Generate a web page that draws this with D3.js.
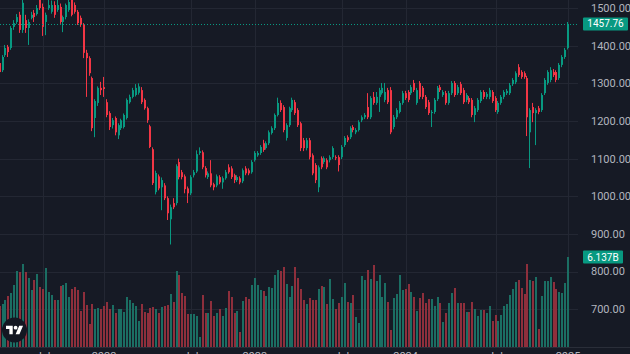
<!DOCTYPE html>
<html>
<head>
<meta charset="utf-8">
<script src="https://cdn.jsdelivr.net/npm/d3@7"></script>
<style>
  html, body { margin: 0; padding: 0; background: #161a25; overflow: hidden; }
  svg { display: block; }
  text { font-family: Roboto, "Liberation Sans", sans-serif; }
</style>
</head>
<body>
<div id="chart"></div>
<script>
// weekly candles, oldest first
var open = [
  1354,1335,1375,1397,1394,1450,1463,1482,1442,1468,
  1447,1474,1487,1484,1522,1503,1463,1500,1490,1508,
  1495,1503,1463,1476,1495,1522,1508,1490,1474,1455,
  1381,1367,1314,1208,1248,1288,1290,1250,1221,1189,
  1208,1162,1181,1184,1208,1250,1264,1269,1275,1282,
  1256,1234,1186,1125,1011,1053,1024,1029,995,939,
  982,982,1091,1064,1053,1021,1008,1056,1066,1115,
  1117,1075,1051,1061,1032,1029,1051,1037,1048,1077,
  1074,1056,1043,1048,1040,1074,1069,1064,1096,1109,
  1115,1141,1128,1141,1168,1181,1216,1248,1237,1155,
  1189,1229,1250,1229,1194,1149,1128,1149,1109,1083,
  1024,1101,1091,1096,1096,1104,1104,1104,1104,1136,
  1157,1157,1184,1170,1176,1202,1210,1237,1210,1264,
  1248,1264,1274,1256,1282,1282,1184,1210,1224,1248,
  1274,1277,1274,1301,1248,1301,1288,1264,1250,1221,
  1224,1258,1290,1269,1274,1248,1274,1301,1274,1298,
  1282,1256,1261,1256,1216,1229,1253,1277,1264,1264,
  1277,1261,1224,1248,1264,1274,1274,1298,1303,1343,
  1330,1327,1314,1170,1237,1221,1234,1229,1274,1301,
  1309,1330,1330,1314,1349,1370,1394
];
var high = [
  1362,1375,1402,1402,1452,1468,1484,1490,1522,1482,
  1470,1490,1495,1508,1535,1512,1488,1525,1520,1518,
  1522,1512,1480,1512,1530,1545,1515,1495,1480,1460,
  1389,1372,1318,1258,1292,1304,1317,1258,1226,1208,
  1212,1194,1206,1220,1260,1270,1288,1298,1300,1290,
  1260,1238,1190,1130,1068,1058,1050,1035,1000,978,
  995,1085,1100,1070,1058,1026,1056,1070,1122,1130,
  1122,1080,1066,1096,1036,1058,1056,1053,1070,1085,
  1080,1060,1056,1053,1074,1080,1074,1096,1120,1120,
  1136,1150,1146,1175,1186,1220,1262,1255,1242,1194,
  1238,1262,1256,1234,1198,1155,1155,1155,1114,1088,
  1082,1106,1106,1101,1109,1133,1109,1109,1136,1160,
  1162,1186,1189,1181,1202,1215,1221,1274,1266,1277,
  1277,1288,1301,1301,1288,1290,1216,1234,1253,1280,
  1280,1282,1296,1309,1288,1306,1293,1269,1256,1229,
  1261,1293,1296,1282,1280,1280,1306,1306,1296,1304,
  1288,1274,1266,1261,1240,1261,1282,1282,1277,1288,
  1282,1266,1253,1269,1282,1285,1301,1314,1332,1351,
  1335,1332,1320,1234,1248,1234,1240,1274,1314,1335,
  1343,1338,1335,1354,1375,1394,1463
];
var low = [
  1322,1330,1370,1370,1389,1442,1458,1434,1434,1434,
  1402,1470,1463,1480,1495,1426,1428,1495,1485,1474,
  1490,1458,1436,1470,1490,1478,1485,1455,1450,1367,
  1264,1320,1173,1157,1240,1269,1264,1210,1176,1180,
  1162,1152,1176,1180,1204,1246,1260,1265,1270,1245,
  1230,1195,1128,1030,1005,1016,963,990,937,872,
  966,976,1045,1045,1008,982,1003,1050,1062,1110,
  1072,1050,1046,1024,1016,1024,1032,1020,1044,1060,
  1046,1035,1038,1032,1035,1056,1056,1060,1092,1105,
  1110,1118,1124,1136,1164,1176,1212,1224,1170,1148,
  1184,1224,1216,1184,1120,1120,1122,1098,1056,1035,
  1011,1072,1086,1072,1090,1099,1096,1066,1099,1131,
  1144,1152,1170,1165,1172,1197,1205,1205,1205,1243,
  1243,1224,1270,1250,1245,1165,1178,1205,1220,1243,
  1256,1250,1269,1277,1243,1258,1258,1232,1216,1184,
  1219,1253,1277,1264,1243,1243,1269,1264,1269,1269,
  1245,1250,1245,1210,1197,1224,1248,1258,1258,1258,
  1248,1224,1219,1243,1258,1269,1269,1293,1298,1317,
  1312,1312,1160,1075,1197,1136,1218,1224,1269,1296,
  1303,1317,1303,1309,1343,1365,1390
];
var close = [
  1330,1370,1394,1383,1447,1460,1476,1442,1514,1447,
  1463,1482,1476,1500,1500,1450,1482,1508,1508,1482,
  1508,1463,1476,1508,1516,1482,1490,1460,1455,1381,
  1367,1327,1181,1253,1288,1282,1285,1216,1184,1202,
  1170,1189,1202,1216,1256,1264,1282,1288,1292,1250,
  1234,1202,1131,1035,1062,1021,1043,995,955,971,
  971,1080,1051,1051,1019,1008,1051,1064,1112,1120,
  1077,1056,1061,1029,1024,1053,1037,1048,1064,1064,
  1051,1043,1051,1037,1069,1061,1061,1091,1115,1115,
  1131,1123,1141,1170,1181,1216,1248,1229,1176,1189,
  1234,1256,1221,1189,1128,1128,1149,1104,1061,1043,
  1077,1077,1101,1077,1104,1128,1101,1083,1131,1155,
  1149,1181,1176,1176,1197,1210,1216,1210,1261,1248,
  1264,1282,1288,1277,1250,1170,1210,1229,1248,1274,
  1261,1256,1290,1282,1282,1264,1264,1237,1221,1224,
  1256,1288,1282,1277,1248,1274,1301,1269,1290,1274,
  1250,1269,1250,1216,1234,1256,1277,1264,1272,1282,
  1253,1229,1248,1264,1277,1280,1295,1309,1327,1322,
  1317,1317,1210,1229,1221,1229,1224,1269,1309,1330,
  1335,1322,1309,1349,1370,1389,1457.76
];
// volume in billions
var volume = [
  2.80,2.93,3.21,3.48,3.68,4.23,5.18,5.12,5.66,5.12,
  4.71,3.89,4.57,4.98,4.09,3.96,5.39,3.75,3.55,3.21,
  3.21,4.16,4.23,4.37,3.41,3.96,4.09,3.89,2.46,3.75,
  2.86,1.57,2.93,2.59,2.66,2.59,2.80,3.07,2.59,2.86,
  2.32,2.59,2.59,2.39,3.41,3.21,3.00,2.80,1.77,2.93,
  2.39,2.32,2.66,2.73,2.59,2.32,2.73,2.80,2.86,3.61,
  3.07,5.18,4.91,3.68,3.48,2.25,2.25,2.25,2.11,0.68,
  3.55,2.32,2.32,3.14,2.11,2.32,2.59,2.11,2.66,3.82,
  3.41,2.32,2.46,1.02,3.14,3.41,3.27,4.23,4.71,4.23,
  3.89,3.82,3.48,4.09,4.02,4.91,5.25,5.18,5.46,4.30,
  3.41,4.16,5.46,4.71,3.96,3.21,2.93,3.34,3.21,3.21,
  3.96,4.16,4.09,2.93,4.64,3.27,2.59,3.00,3.41,4.37,
  3.07,3.00,3.55,2.05,1.64,4.84,4.57,5.25,4.64,5.59,
  4.50,4.91,3.41,4.37,3.07,1.16,3.34,3.61,4.91,3.89,
  3.96,4.30,3.75,3.41,2.46,3.34,3.68,3.00,3.27,3.27,
  2.80,3.41,3.00,1.71,2.32,3.00,3.68,4.02,3.00,3.00,
  3.00,2.39,2.39,3.07,2.59,2.11,2.52,2.52,2.32,2.80,
  1.77,2.18,1.77,2.18,2.80,2.93,3.55,3.96,4.43,4.57,
  4.02,3.61,5.66,4.57,4.50,4.77,1.23,3.48,4.50,4.50,
  4.77,4.43,3.96,3.75,3.68,4.37,6.137
];

var priceTicks = [700, 800, 900, 1000, 1100, 1200, 1300, 1400, 1500];
var timeTickIdx = [15, 36, 66, 88, 118, 140, 171, 196];
var timeTickLabels = ["Jul", "2022", "Jul", "2023", "Jul", "2024", "Jul", "2025"];
var lastVolumeText = "6.137B";

var width = 630, height = 354;
var plotRight = 578, volBase = 347;
var upColor = "#089981", downColor = "#f23645";
var upVol = "#1b6e63", downVol = "#8e2f3c";

var data = close.map(function (c, i) {
  return { i: i, o: open[i], h: high[i], l: low[i], c: c, v: volume[i] };
});
var n = data.length;

// one candle every 2.9px, last one sits on the 568 gridline
var x = d3.scaleLinear().domain([0, n - 1]).range([568 - 2.9 * (n - 1), 568]);
var y = d3.scaleLinear().domain([700, 1500]).range([309.25, 8.05]);
var yv = d3.scaleLinear().domain([0, d3.max(volume)]).range([volBase, 257]);

var svg = d3
  .select("#chart")
  .append("svg")
  .attr("width", width)
  .attr("height", height);

svg.append("rect").attr("width", width).attr("height", height).attr("fill", "#161a25");

// grid
svg
  .selectAll("line.vgrid")
  .data(timeTickIdx)
  .enter()
  .append("line")
  .attr("x1", function (d) { return Math.round(x(d)) + 0.5; })
  .attr("x2", function (d) { return Math.round(x(d)) + 0.5; })
  .attr("y1", 0)
  .attr("y2", volBase)
  .attr("stroke", "#232733");

svg
  .selectAll("line.hgrid")
  .data(priceTicks)
  .enter()
  .append("line")
  .attr("x1", 0)
  .attr("x2", plotRight)
  .attr("y1", function (d) { return Math.round(y(d)) + 0.5; })
  .attr("y2", function (d) { return Math.round(y(d)) + 0.5; })
  .attr("stroke", "#232733");

var plot = svg.append("g");

// volume bars
plot
  .selectAll("rect.vol")
  .data(data)
  .enter()
  .append("rect")
  .attr("x", function (d) { return Math.round(x(d.i)) - 1; })
  .attr("width", 2)
  .attr("y", function (d) { return Math.round(yv(d.v)); })
  .attr("height", function (d) { return volBase - Math.round(yv(d.v)); })
  .attr("fill", function (d) { return d.c >= d.o ? upVol : downVol; });

// wicks
plot
  .selectAll("line.wick")
  .data(data)
  .enter()
  .append("line")
  .attr("x1", function (d) { return Math.round(x(d.i)) - 0.5; })
  .attr("x2", function (d) { return Math.round(x(d.i)) - 0.5; })
  .attr("y1", function (d) { return y(d.h); })
  .attr("y2", function (d) { return y(d.l); })
  .attr("stroke", function (d) { return d.c >= d.o ? upColor : downColor; })
  .attr("stroke-width", 1);

// bodies
plot
  .selectAll("rect.body")
  .data(data)
  .enter()
  .append("rect")
  .attr("x", function (d) { return Math.round(x(d.i)) - 1; })
  .attr("width", 2)
  .attr("y", function (d) { return y(Math.max(d.o, d.c)); })
  .attr("height", function (d) { return Math.max(1, y(Math.min(d.o, d.c)) - y(Math.max(d.o, d.c))); })
  .attr("fill", function (d) { return d.c >= d.o ? upColor : downColor; });

// last price line
var last = data[n - 1];
svg
  .append("line")
  .attr("x1", 0)
  .attr("x2", plotRight)
  .attr("y1", Math.round(y(last.c)) + 0.5)
  .attr("y2", Math.round(y(last.c)) + 0.5)
  .attr("stroke", upColor)
  .attr("stroke-dasharray", "1,2");

// price scale labels
svg
  .selectAll("text.price")
  .data(priceTicks)
  .enter()
  .append("text")
  .attr("x", 591)
  .attr("y", function (d) { return y(d); })
  .attr("dy", "0.35em")
  .attr("fill", "#b2b5be")
  .attr("font-size", 11)
  .text(function (d) { return d3.format(".2f")(d); });

// last price badge
svg
  .append("rect")
  .attr("x", 583)
  .attr("y", y(last.c) - 6.5)
  .attr("width", 45)
  .attr("height", 13)
  .attr("rx", 1)
  .attr("fill", "#089981");
svg
  .append("text")
  .attr("x", 605.5)
  .attr("y", y(last.c))
  .attr("dy", "0.35em")
  .attr("text-anchor", "middle")
  .attr("fill", "#ffffff")
  .attr("font-size", 10)
  .text(d3.format(".2f")(last.c));

// last volume badge
svg
  .append("rect")
  .attr("x", 583)
  .attr("y", yv(last.v) - 6.5)
  .attr("width", 40)
  .attr("height", 13)
  .attr("rx", 1)
  .attr("fill", "#089981");
svg
  .append("text")
  .attr("x", 603)
  .attr("y", yv(last.v))
  .attr("dy", "0.35em")
  .attr("text-anchor", "middle")
  .attr("fill", "#ffffff")
  .attr("font-size", 10)
  .text(lastVolumeText);

// time axis border and labels (only their tops show above the window edge)
svg
  .append("line")
  .attr("x1", 0)
  .attr("x2", width)
  .attr("y1", volBase + 0.5)
  .attr("y2", volBase + 0.5)
  .attr("stroke", "#2a2e39");

svg
  .selectAll("text.time")
  .data(timeTickIdx)
  .enter()
  .append("text")
  .attr("x", function (d) { return x(d); })
  .attr("y", 360)
  .attr("text-anchor", "middle")
  .attr("fill", "#b2b5be")
  .attr("font-size", 11)
  .text(function (d, i) { return timeTickLabels[i]; });

// TradingView logo
var logo = svg.append("g").attr("transform", "translate(14.5,330)");
logo.append("circle").attr("r", 12.5).attr("fill", "#131722");
var glyph = logo.append("g").attr("transform", "translate(-8.5,-6.2) scale(0.48)");
glyph.append("path").attr("d", "M14 22H7V11H0V4h14v18zM28 22h-8l7.5-18h8L28 22z").attr("fill", "#ffffff");
glyph.append("circle").attr("cx", 20).attr("cy", 8).attr("r", 4).attr("fill", "#ffffff");
</script>
</body>
</html>
